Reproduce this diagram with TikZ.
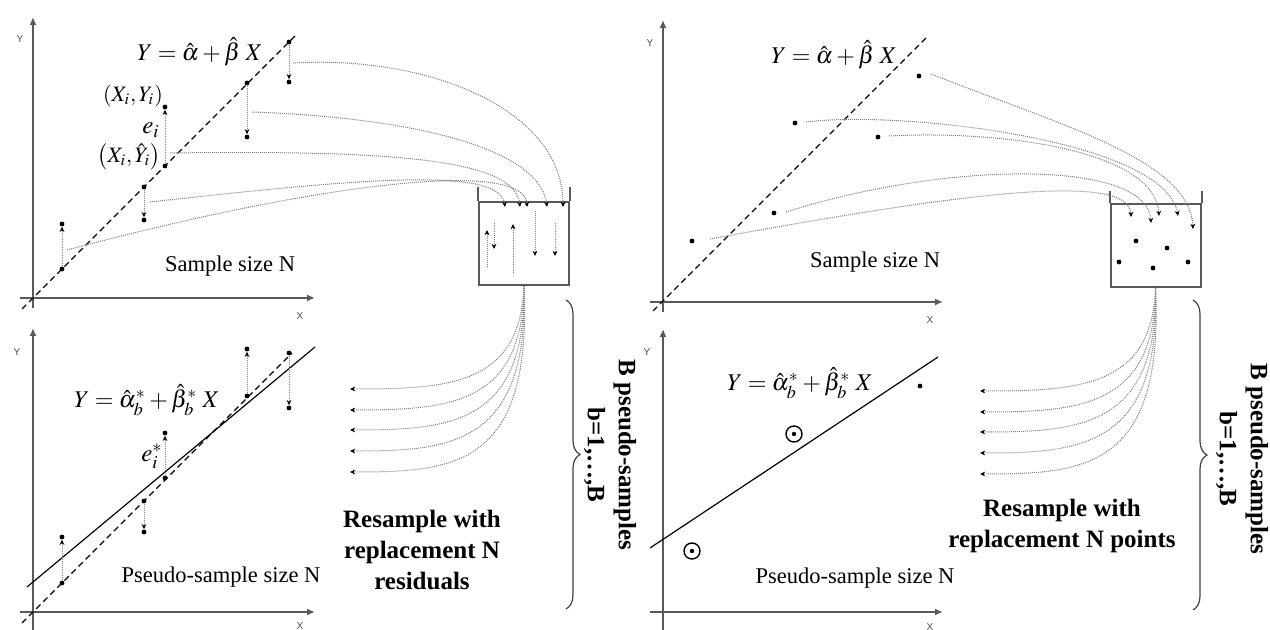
\documentclass[tikz,border=0pt]{standalone}
\usepackage{mathptmx}
\usepackage[no-math]{fontspec}
\setmainfont{Liberation Serif}
\setsansfont{Liberation Sans}
\usetikzlibrary{arrows.meta, decorations.pathreplacing}

\begin{document}
\begin{tikzpicture}[
    x=0.5pt, y=-0.5pt,
    axis/.style={draw=black!65, line width=1pt, -{Latex[length=4pt, width=3.5pt]}},
    axlbl/.style={font=\fontsize{5}{6}\selectfont\sffamily, text=black!70, inner sep=0pt},
    fitline/.style={line width=0.7pt, dash pattern=on 3pt off 2pt},
    bootline/.style={line width=0.6pt},
    dot/.style={circle, fill=black, inner sep=0pt, minimum size=2.4pt},
    ringdot/.style={circle, draw, line width=0.7pt, inner sep=0pt, minimum size=8pt,
        path picture={\fill (path picture bounding box.center) circle (1.1pt);}},
    res/.style={draw=black!50, line width=0.5pt, dash pattern=on 0.5pt off 0.5pt,
        -{Stealth[length=2.6pt, width=2.4pt, color=black]}},
    flow/.style={draw=black!50, line width=0.5pt, dash pattern=on 0.5pt off 0.5pt,
        -{Stealth[length=2.6pt, width=2.4pt, color=black]}},
    urn/.style={draw=black!65, line width=1pt, rectangle,
        minimum width=45pt, minimum height=41.5pt, inner sep=0pt},
    wall/.style={draw=black!65, line width=1pt},
    lbl/.style={font=\fontsize{11.25}{13}\selectfont, inner sep=0pt},
    eq/.style={font=\fontsize{12}{14}\selectfont, inner sep=0pt},
    sym/.style={font=\fontsize{11}{13}\selectfont, inner sep=0pt},
    note/.style={font=\fontsize{12.5}{15.5}\selectfont\bfseries, align=center, inner sep=0pt},
    brace/.style={decorate, decoration={brace, amplitude=7pt}, line width=0.6pt, black!75}
]
\useasboundingbox (0,0) rectangle (1270,630);

%% ---- Left half: residual bootstrap ----

% Top-left axes and fitted line
\draw[axis] (20,298) -- (315,298);
\draw[axis] (33,308) -- (33,17);
\node[axlbl] at (20,39)  (ly1) {Y};
\node[axlbl] at (300,316) (lx1) {X};
\draw[fitline] (22,309) -- (297,34);
\node[eq]  at (200,52)  (eqL) {$Y=\hat{\alpha}+\hat{\beta}\;X$};
\node[lbl] at (230,266) (nL)  {Sample size N};

% Observed points and fitted values
\node[dot] at (62,269)  (f1) {};  \node[dot] at (62,224)  (y1) {};
\node[dot] at (144,187) (f2) {};  \node[dot] at (144,220) (y2) {};
\node[dot] at (165,166) (f3) {};  \node[dot] at (165,107) (y3) {};
\node[dot] at (247,83)  (f4) {};  \node[dot] at (247,137) (y4) {};
\node[dot] at (289,42)  (f5) {};  \node[dot] at (289,82)  (y5) {};
\draw[res] (f1) -- (y1);
\draw[res] (f2) -- (y2);
\draw[res] (f3) -- (y3);
\draw[res] (f4) -- (y4);
\draw[res] (f5) -- (y5);

\node[sym] at (133,96)  (obsL) {$\left(X_i,Y_i\right)$};
\node[sym, font=\fontsize{12.5}{14}\selectfont] at (151,130) (eiL) {$e_i$};
\node[sym] at (129,157) (hatL) {$\left(X_i,\hat{Y}_i\right)$};

% Urn of residuals
\node[urn] at (524,243.5) (urnL) {};
\draw[wall] (urnL.north west) -- ++(0,-14);
\draw[wall] (urnL.north east) -- ++(0,-14);
\draw[res] (487,267) -- (487,230);
\draw[res] (494,223) -- (494,249);
\draw[res] (513,273) -- (513,224);
\draw[res] (535,211) -- (535,256);
\draw[res] (555,223) -- (555,256);

% Residuals dropped into the urn
\coordinate (s1) at (67,250);   \coordinate (in1) at (505,207);
\coordinate (s2) at (150,202);  \coordinate (in2) at (520,207);
\coordinate (s3) at (170,153);  \coordinate (in3) at (527,207);
\coordinate (s4) at (252,112);  \coordinate (in4) at (547,207);
\coordinate (s5) at (293,63);   \coordinate (in5) at (563,207);
\draw[flow] (s5) .. controls (430,55)  and (563,110) .. (in5);
\draw[flow] (s4) .. controls (420,118) and (540,150) .. (in4);
\draw[flow] (s3) .. controls (400,150) and (515,160) .. (in2);
\draw[flow] (s2) .. controls (350,180) and (500,165) .. (in1);
\draw[flow] (s1) .. controls (330,180) and (525,160) .. (in3);

% Draws out of the urn
\coordinate (o1) at (350,389);
\coordinate (o2) at (350,410);
\coordinate (o3) at (350,430);
\coordinate (o4) at (350,451);
\coordinate (o5) at (350,472);
\draw[flow] (urnL.south) .. controls (520,385) and (450,389) .. (o1);
\draw[flow] (urnL.south) .. controls (523,405) and (450,410) .. (o2);
\draw[flow] (urnL.south) .. controls (526,425) and (450,430) .. (o3);
\draw[flow] (urnL.south) .. controls (529,446) and (450,451) .. (o4);
\draw[flow] (urnL.south) .. controls (532,467) and (455,472) .. (o5);

\node[note] at (422,550) (resL) {Resample with\\replacement N\\residuals};
\draw[brace] (566,300) -- (566,609);
\node[note, rotate=-90] at (610,455) (bL) {B pseudo-samples\\b=1,\ldots,B};

% Bottom-left pseudo-sample
\draw[axis] (20,612) -- (315,612);
\draw[axis] (33,632) -- (33,328);
\node[axlbl] at (17,352)  (ly2) {Y};
\node[axlbl] at (300,626) (lx2) {X};
\draw[fitline] (22,623) -- (292,353);
\draw[bootline] (27,587) -- (315,347);

\node[dot] at (62,583)  (g1) {};  \node[dot] at (62,537)  (z1) {};
\node[dot] at (144,501) (g2) {};  \node[dot] at (144,532) (z2) {};
\node[dot] at (165,478) (g3) {};  \node[dot] at (165,433) (z3) {};
\node[dot] at (247,396) (g4) {};  \node[dot] at (247,349) (z4) {};
\node[dot] at (289,353) (g5) {};  \node[dot] at (289,408) (z5) {};
\draw[res] (g1) -- (z1);
\draw[res] (g2) -- (z2);
\draw[res] (g3) -- (z3);
\draw[res] (g4) -- (z4);
\draw[res] (g5) -- (z5);

\node[eq]  at (147,400) (eqLb) {$Y=\hat{\alpha}_b^{*}+\hat{\beta}_b^{*}\;X$};
\node[sym, font=\fontsize{12.5}{14}\selectfont] at (152,456) (estar) {$e_i^{*}$};
\node[lbl] at (221,577) (nLb) {Pseudo-sample size N};

%% ---- Right half: case bootstrap ----

% Top-right axes and fitted line
\draw[axis] (650,302) -- (943,302);
\draw[axis] (663,312) -- (663,20);
\node[axlbl] at (650,43)  (ly3) {Y};
\node[axlbl] at (930,320) (lx3) {X};
\draw[fitline] (653,311) -- (928,36);
\node[eq]  at (834,55)  (eqR) {$Y=\hat{\alpha}+\hat{\beta}\;X$};
\node[lbl] at (875,262) (nR)  {Sample size N};

\node[dot] at (692,241) (p1) {};
\node[dot] at (774,213) (p2) {};
\node[dot] at (795,123) (p3) {};
\node[dot] at (878,137) (p4) {};
\node[dot] at (919,76)  (p5) {};

% Urn of points
\node[urn] at (1155.5,245.5) (urnR) {};
\draw[wall] (urnR.north west) -- ++(0,-12);
\draw[wall] (urnR.north east) -- ++(0,-12);
\node[dot] at (1136,241) (u1) {};
\node[dot] at (1167,248) (u2) {};
\node[dot] at (1119,262) (u3) {};
\node[dot] at (1153,268) (u4) {};
\node[dot] at (1188,262) (u5) {};

% Points dropped into the urn
\coordinate (t1) at (710,239);  \coordinate (j1) at (1131,217);
\coordinate (t2) at (786,212);  \coordinate (j2) at (1151,223);
\coordinate (t3) at (806,122);  \coordinate (j3) at (1159,216);
\coordinate (t4) at (889,136);  \coordinate (j4) at (1178,216);
\coordinate (t5) at (931,74);   \coordinate (j5) at (1193,229);
\draw[flow] (t5) .. controls (1060,125) and (1190,160) .. (j5);
\draw[flow] (t3) .. controls (900,110)  and (1165,140) .. (j4);
\draw[flow] (t4) .. controls (1000,130) and (1155,150) .. (j3);
\draw[flow] (t2) .. controls (950,160)  and (1148,160) .. (j2);
\draw[flow] (t1) .. controls (950,195)  and (1130,170) .. (j1);

% Draws out of the urn
\coordinate (r1) at (980,391);
\coordinate (r2) at (980,412);
\coordinate (r3) at (980,432);
\coordinate (r4) at (980,453);
\coordinate (r5) at (980,474);
\draw[flow] (urnR.south) .. controls (1152,387) and (1080,391) .. (r1);
\draw[flow] (urnR.south) .. controls (1155,407) and (1080,412) .. (r2);
\draw[flow] (urnR.south) .. controls (1158,427) and (1080,432) .. (r3);
\draw[flow] (urnR.south) .. controls (1161,448) and (1080,453) .. (r4);
\draw[flow] (urnR.south) .. controls (1164,469) and (1085,474) .. (r5);

\node[note] at (1062,526) (resR) {Resample with\\replacement N points};
\draw[brace] (1193,300) -- (1193,610);
\node[note, rotate=-90] at (1242,459) (bR) {B pseudo-samples\\b=1,\ldots,B};

% Bottom-right pseudo-sample
\draw[axis] (650,612) -- (943,612);
\draw[axis] (663,632) -- (663,329);
\node[axlbl] at (647,352) (ly4) {Y};
\node[axlbl] at (930,627) (lx4) {X};
\draw[bootline] (650,548) -- (938,357);
\node[ringdot] at (692,551) (q1) {};
\node[ringdot] at (794,434) (q2) {};
\node[dot]     at (920,386) (q3) {};

\node[eq]  at (800,383) (eqRb) {$Y=\hat{\alpha}_b^{*}+\hat{\beta}_b^{*}\;X$};
\node[lbl] at (855,578) (nRb)  {Pseudo-sample size N};

\end{tikzpicture}
\end{document}
